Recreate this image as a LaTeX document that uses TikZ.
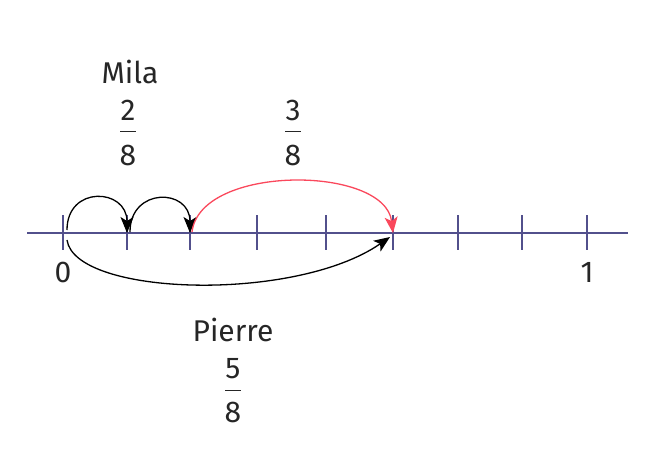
\documentclass[tikz,border=0pt]{standalone}
\usepackage{fontspec}
\setmainfont{Fira Sans}
\usepackage{tikz}
\usetikzlibrary{arrows.meta}
\definecolor{lineBlue}{RGB}{82,80,140}
\definecolor{jumpRed}{RGB}{250,72,92}

\begin{document}
\begin{tikzpicture}[x=1pt,y=1pt,
		tick/.style={lineBlue, line width=1.8pt},
		jump/.style={-{Stealth[length=16pt,width=13pt,inset=4pt]}, line width=1.3pt},
		txt/.style={font=\fontsize{30}{34}\selectfont, inner sep=0pt, text=black!85}]
	\useasboundingbox (0,0) rectangle (660,-469);
	% number line
	\draw[tick] (27,-233) -- (628,-233);
	\foreach \i/\x in {0/63,1/127,2/190,3/257,4/326,5/393,6/458,7/522,8/587}{
		\coordinate (t\i) at (\x,-233);
		\draw[tick] (\x,-215) -- (\x,-250);
	}
	\node[txt] (zero) at (63,-272) {0};
	\node[txt] (one) at (587,-272) {1};
	% Mila
	\node[txt] (mila) at (130,-72) {Mila};
	\node[txt] (milaNum) at (128,-110) {2};
	\node[txt] (milaDen) at (128,-155) {8};
	\draw[line width=1pt, black!85] (120,-131) -- (136,-131);
	\node[txt] (redNum) at (293,-110) {3};
	\node[txt] (redDen) at (293,-155) {8};
	\draw[line width=1pt, black!85] (285,-131) -- (301,-131);
	% Pierre
	\node[txt] (pierre) at (233,-330) {Pierre};
	\node[txt] (pierreNum) at (233,-369) {5};
	\node[txt] (pierreDen) at (233,-412) {8};
	\draw[line width=1pt, black!85] (225,-390) -- (241,-390);
	% jumps
	\draw[jump] ([xshift=4pt,yshift=3pt]t0) .. controls +(0,45) and +(0,45) .. (t1);
	\draw[jump] ([xshift=3pt,yshift=1pt]t1) .. controls +(0,45) and +(0,45) .. (t2);
	\draw[jump, jumpRed] ([xshift=2pt,yshift=1pt]t2) .. controls +(8,68) and +(-8,68) .. (t5);
	\draw[jump] ([xshift=4pt,yshift=-7pt]t0) .. controls +(8,-56) and +(-95,-66) .. ([xshift=-3pt,yshift=-4pt]t5);
\end{tikzpicture}
\end{document}
